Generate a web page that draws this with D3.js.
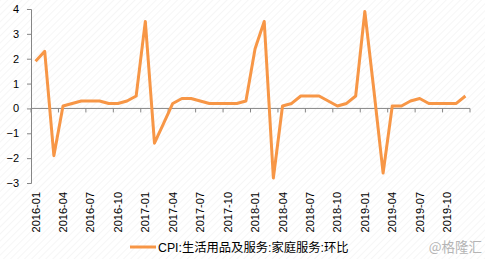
<!DOCTYPE html>
<html>
<head>
<meta charset="utf-8">
<script src="https://cdn.jsdelivr.net/npm/d3@7"></script>
<style>
  body { margin: 0; background: #fff; }
  svg { display: block; font-family: 'Liberation Sans', Arial, sans-serif; }
</style>
</head>
<body>
<div class="js-chart"></div>
<script>
const months = [
  '2016-01', '2016-02', '2016-03', '2016-04', '2016-05', '2016-06', '2016-07', '2016-08', '2016-09', '2016-10', '2016-11', '2016-12',
  '2017-01', '2017-02', '2017-03', '2017-04', '2017-05', '2017-06', '2017-07', '2017-08', '2017-09', '2017-10', '2017-11', '2017-12',
  '2018-01', '2018-02', '2018-03', '2018-04', '2018-05', '2018-06', '2018-07', '2018-08', '2018-09', '2018-10', '2018-11', '2018-12',
  '2019-01', '2019-02', '2019-03', '2019-04', '2019-05', '2019-06', '2019-07', '2019-08', '2019-09', '2019-10', '2019-11', '2019-12'
];
const values = [
  1.9, 2.3, -1.9, 0.1, 0.2, 0.3, 0.3, 0.3, 0.2, 0.2, 0.3, 0.5,
  3.5, -1.4, -0.6, 0.2, 0.4, 0.4, 0.3, 0.2, 0.2, 0.2, 0.2, 0.3,
  2.4, 3.5, -2.8, 0.1, 0.2, 0.5, 0.5, 0.5, 0.3, 0.1, 0.2, 0.5,
  3.9, 0.7, -2.6, 0.1, 0.1, 0.3, 0.4, 0.2, 0.2, 0.2, 0.2, 0.5
];
const yTicks = [-3, -2, -1, 0, 1, 2, 3, 4];
const seriesName = 'CPI:生活用品及服务:家庭服务:环比';
const watermark = '@格隆汇';

const width = 485;
const height = 259;

const svg = d3.select('.js-chart').append('svg').attr('width', width).attr('height', height);

// faint diagonal hatch background
const pattern = svg.append('defs').append('pattern')
  .attr('id', 'hatch').attr('width', 5).attr('height', 5)
  .attr('patternUnits', 'userSpaceOnUse').attr('patternTransform', 'rotate(45)');
pattern.append('rect').attr('width', 5).attr('height', 5).attr('fill', '#fff');
pattern.append('line').attr('x1', 0).attr('y1', 0).attr('x2', 0).attr('y2', 5)
  .attr('stroke', '#f0f0f0').attr('stroke-width', 1.2);
svg.append('rect').attr('width', width).attr('height', height).attr('fill', 'url(#hatch)');

const x = d3.scaleBand().domain(months).range([31, 470]);
const y = d3.scaleLinear().domain([-3, 4]).range([183, 9]);

// y axis
const yAxis = svg.append('g').attr('transform', 'translate(31,0)')
  .call(d3.axisLeft(y).tickValues(yTicks).tickSize(4).tickPadding(8).tickFormat(d3.format('d')));
yAxis.select('.domain').attr('stroke', '#868686');
yAxis.selectAll('.tick line').attr('stroke', '#868686');
yAxis.selectAll('.tick text').attr('font-size', 11).attr('fill', '#000');

// x axis on zero line, ticks every 3 months between categories
const zeroY = y(0);
svg.append('line').attr('x1', 31).attr('x2', 470).attr('y1', zeroY).attr('y2', zeroY)
  .attr('stroke', '#868686').attr('stroke-width', 1);
const tickIdx = d3.range(0, months.length + 1, 3);
svg.append('g').selectAll('line').data(tickIdx).join('line')
  .attr('x1', (i) => x.range()[0] + i * x.step())
  .attr('x2', (i) => x.range()[0] + i * x.step())
  .attr('y1', zeroY).attr('y2', zeroY + 4)
  .attr('stroke', '#868686');

const labelMonths = months.filter((m, i) => i % 3 === 0);
svg.append('g').selectAll('text').data(labelMonths).join('text')
  .attr('transform', (m) => 'translate(' + (x(m) + x.bandwidth() / 2 + 4) + ',192) rotate(-90)')
  .attr('text-anchor', 'end')
  .attr('font-size', 11)
  .attr('fill', '#000')
  .text((m) => m);

// series line
const line = d3.line()
  .x((d, i) => x(months[i]) + x.bandwidth() / 2)
  .y((d) => y(d));
svg.append('path').attr('d', line(values))
  .attr('fill', 'none').attr('stroke', '#f79646').attr('stroke-width', 3)
  .attr('stroke-linejoin', 'round');

// legend
svg.append('line').attr('x1', 130).attr('x2', 156).attr('y1', 247).attr('y2', 247)
  .attr('stroke', '#f79646').attr('stroke-width', 3);
svg.append('text').attr('x', 158).attr('y', 251.5)
  .attr('font-size', 12.3).attr('fill', '#000')
  .attr('font-family', "'Liberation Sans', 'Noto Sans CJK SC', sans-serif")
  .text(seriesName);

svg.append('text').attr('x', 482).attr('y', 251.5).attr('text-anchor', 'end')
  .attr('font-size', 13.5).attr('fill', '#b4b4b4')
  .attr('font-family', "'Noto Sans CJK SC', sans-serif")
  .text(watermark);
</script>
</body>
</html>
